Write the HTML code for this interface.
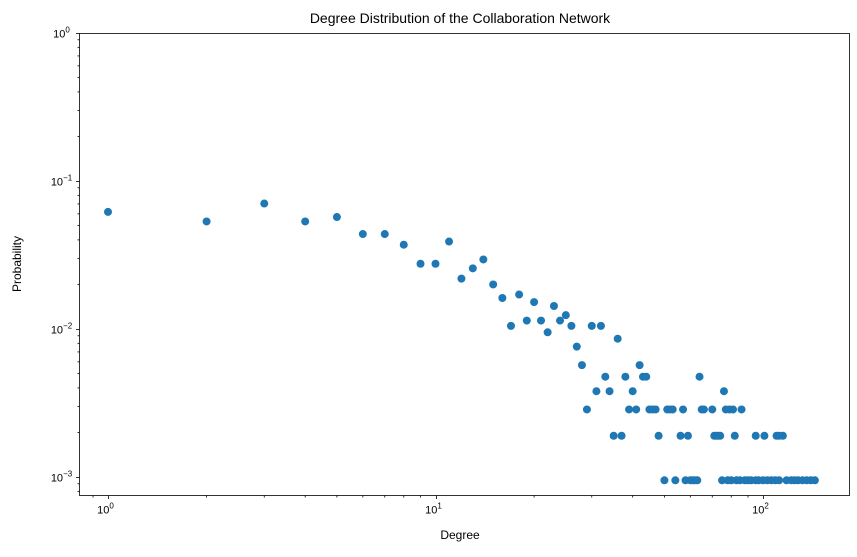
<!DOCTYPE html>
<html><head><meta charset="utf-8"><style>
body{margin:0;background:#fff;font-family:"Liberation Sans","DejaVu Sans",sans-serif}
svg text{font-family:"Liberation Sans","DejaVu Sans",sans-serif}
</style></head><body>
<svg id="chart" width="857" height="552" xmlns="http://www.w3.org/2000/svg">
<rect width="857" height="552" fill="#fff"/>
<text x="460" y="23" text-anchor="middle" font-size="14">Degree Distribution of the Collaboration Network</text>
<text x="460" y="539" text-anchor="middle" font-size="12">Degree</text>
<text x="21" y="264" text-anchor="middle" font-size="12" transform="rotate(-90 21 264)">Probability</text>
<g id="ticks"></g>
<g id="points"></g>
<rect x="79.5" y="33.5" width="770" height="462" fill="none" stroke="#000" stroke-width="0.8"/>
</svg>
<script>
const degrees = [1,2,3,4,5,6,7,8,9,10,11,12,13,14,15,16,17,18,19,20,21,22,23,24,25,26,27,28,29,30,31,32,33,34,35,36,37,38,39,40,41,42,43,44,
45,46,47,51,52,53,57,65,66,70,77,79,81,86,
48,56,59,64,71,72,73,74,82,95,101,110,112,115,
50,54,58,60,61,62,63,75,78,80,83,85,88,90,92,95,97,100,103,106,109,112,118,122,125,128,132,136,140,144,76];
const probabilities = [0.0618,0.0533,0.0704,0.0533,0.0571,0.0438,0.0438,0.0371,0.0276,0.0276,0.039,0.0219,0.0257,0.0295,0.020,0.0162,0.0105,0.0171,0.0114,0.0152,0.0114,0.0095,0.0143,0.0114,0.0124,0.0105,0.0076,0.0057,0.00286,0.0105,0.0038,0.0105,0.00476,0.0038,0.0019,0.0086,0.0019,0.00476,0.00286,0.0038,0.00286,0.0057,0.00476,0.00476,
0.00286,0.00286,0.00286,0.00286,0.00286,0.00286,0.00286,0.00286,0.00286,0.00286,0.00286,0.00286,0.00286,0.00286,
0.0019,0.0019,0.0019,0.00476,0.0019,0.0019,0.0019,0.0019,0.0019,0.0019,0.0019,0.0019,0.0019,0.0019,
0.00095,0.00095,0.00095,0.00095,0.00095,0.00095,0.00095,0.00095,0.00095,0.00095,0.00095,0.00095,0.00095,0.00095,0.00095,0.00095,0.00095,0.00095,0.00095,0.00095,0.00095,0.00095,0.00095,0.00095,0.00095,0.00095,0.00095,0.00095,0.00095,0.00095,0.0038];
const xTickExps = [0,1,2];
const yTickExps = [0,-1,-2,-3];

const NS='http://www.w3.org/2000/svg';
function xs(d){return 108+327.5*Math.log10(d);}
function ys(p){return 33-148*Math.log10(p);}
const L=79.5,R=849.5,T=33.5,B=495.5;
const tg=document.getElementById('ticks');
function line(x1,y1,x2,y2,name){const l=document.createElementNS(NS,'line');
l.setAttribute('x1',x1);l.setAttribute('y1',y1);l.setAttribute('x2',x2);l.setAttribute('y2',y2);
l.setAttribute('stroke','#000');l.setAttribute('stroke-width','0.8');


tg.appendChild(l);}
function label(x,y,exp,anchor,name){const t=document.createElementNS(NS,'text');
t.setAttribute('x',x);t.setAttribute('y',y);t.setAttribute('text-anchor',anchor);t.setAttribute('font-size','11');
t.innerHTML='10<tspan dy="-5" font-size="8">'+(exp<0?'\u2212'+(-exp):exp)+'</tspan>';


tg.appendChild(t);}
for(const e of xTickExps){const x=Math.round(xs(Math.pow(10,e)))+0.5;line(x,B,x,B+3.5,'x-major-tick');label(x-3,B+18,e,'middle','x-tick-label');
 for(let m=2;m<10;m++){const xm=xs(m*Math.pow(10,e));if(xm<R)line(xm,B,xm,B+2,'x-minor-tick');}}
for(let m=2;m<10;m++){const xm=xs(m/10);if(xm>L)line(xm,B,xm,B+2,'x-minor-tick');}
for(const e of yTickExps){const y=Math.round(ys(Math.pow(10,e)))+0.5;line(L-3.5,y,L,y,'y-major-tick');label(L-18,y+4,e,'middle','y-tick-label');
 for(let m=2;m<10;m++){const ym=ys(m*Math.pow(10,e-1));if(ym<B)line(L-2,ym,L,ym,'y-minor-tick');}}
const pg=document.getElementById('points');
for(let i=0;i<degrees.length;i++){const c=document.createElementNS(NS,'circle');
c.setAttribute('cx',xs(degrees[i]));c.setAttribute('cy',ys(probabilities[i]));c.setAttribute('r','4');c.setAttribute('fill','#1f77b4');


pg.appendChild(c);}
</script>
</body></html>
